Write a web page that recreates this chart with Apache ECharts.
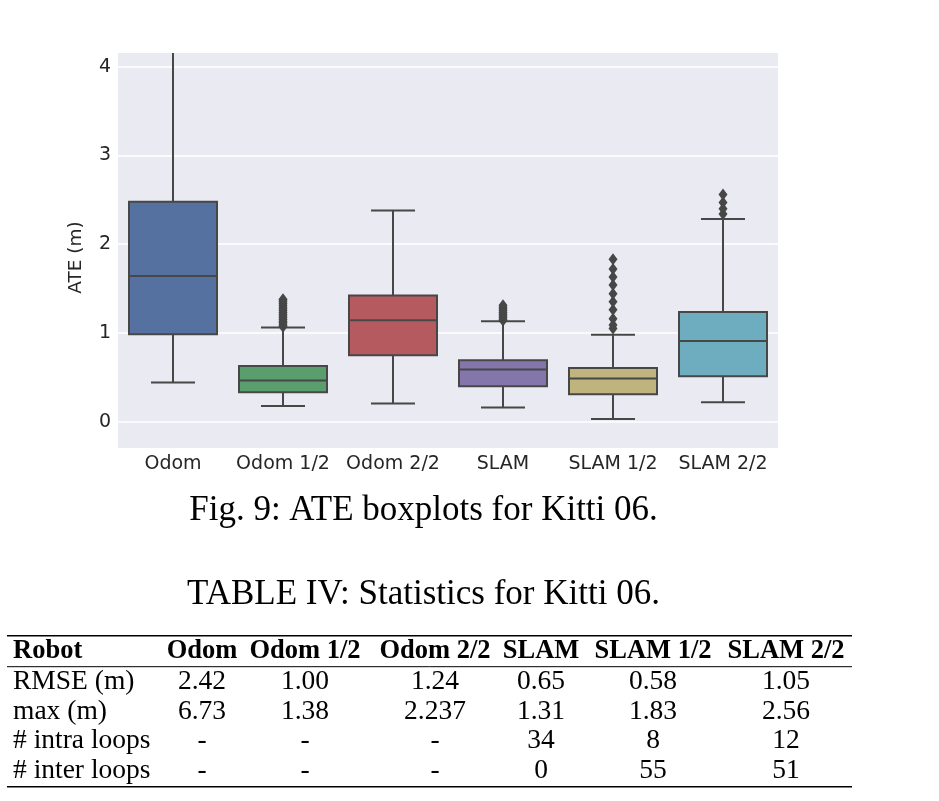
<!DOCTYPE html>
<html>
<head>
<meta charset="utf-8">
<script src="https://cdn.jsdelivr.net/npm/echarts@6/dist/echarts.min.js"></script>
<style>
html,body{margin:0;padding:0;background:#fff;}
#chart{width:939px;height:801px;}
</style>
</head>
<body>
<div id="chart"></div>
<script>
// ---- chart data ----
const categories = ['Odom', 'Odom 1/2', 'Odom 2/2', 'SLAM', 'SLAM 1/2', 'SLAM 2/2'];
const whiskerLow = [0.44, 0.176, 0.203, 0.158, 0.03, 0.218];
const q1 = [0.984, 0.330, 0.747, 0.398, 0.308, 0.511];
const median = [1.641, 0.462, 1.142, 0.586, 0.485, 0.909];
const q3 = [2.477, 0.627, 1.42, 0.691, 0.604, 1.236];
const whiskerHigh = [4.72, 1.06, 2.38, 1.131, 0.98, 2.284];
const outliersOdom = [];
const outliersOdom12 = [1.07, 1.08, 1.10, 1.12, 1.13, 1.15, 1.17, 1.19, 1.21, 1.23, 1.25, 1.27, 1.29, 1.31, 1.33, 1.35, 1.37, 1.38];
const outliersOdom22 = [];
const outliersSlam = [1.14, 1.15, 1.17, 1.19, 1.21, 1.23, 1.25, 1.27, 1.29, 1.31];
const outliersSlam12 = [1.05, 1.09, 1.16, 1.26, 1.35, 1.44, 1.54, 1.63, 1.72, 1.83];
const outliersSlam22 = [2.34, 2.40, 2.47, 2.56];
const yTicks = [0, 1, 2, 3, 4];

// ---- table data ----
const tableHeader = ['Robot', 'Odom', 'Odom 1/2', 'Odom 2/2', 'SLAM', 'SLAM 1/2', 'SLAM 2/2'];
const rowLabels = ['RMSE (m)', 'max (m)', '# intra loops', '# inter loops'];
const rmse = ['2.42', '1.00', '1.24', '0.65', '0.58', '1.05'];
const maxErr = ['6.73', '1.38', '2.237', '1.31', '1.83', '2.56'];
const intraLoops = ['-', '-', '-', '34', '8', '12'];
const interLoops = ['-', '-', '-', '0', '55', '51'];
const figCaption = 'Fig. 9: ATE boxplots for Kitti 06.';
const tableCaption = 'TABLE IV: Statistics for Kitti 06.';

// ---- styles ----
const boxColors = ['#5571a0', '#5a9e6e', '#b55b60', '#8476aa', '#c0b47e', '#6eadbf'];
const edge = '#474747';
const textColor = '#262626';
const serif = '"Liberation Serif", "Times New Roman", serif';
const sans = '"DejaVu Sans"';

const allOutliers = [outliersOdom, outliersOdom12, outliersOdom22, outliersSlam, outliersSlam12, outliersSlam22];
const boxData = categories.map((c, i) => [i, whiskerLow[i], q1[i], median[i], q3[i], whiskerHigh[i]]);
const outlierData = [];
allOutliers.forEach((arr, i) => arr.forEach(v => outlierData.push([i, v])));

function renderBox(params, api) {
  const i = api.value(0);
  const lo = api.coord([i, api.value(1)]);
  const b1 = api.coord([i, api.value(2)]);
  const md = api.coord([i, api.value(3)]);
  const b3 = api.coord([i, api.value(4)]);
  const hi = api.coord([i, api.value(5)]);
  const bw = api.size([1, 0])[0] * 0.8;
  const cx = lo[0];
  const ls = { stroke: edge, lineWidth: 2 };
  return {
    type: 'group',
    children: [
      { type: 'line', shape: { x1: cx, y1: b1[1], x2: cx, y2: lo[1] }, style: ls },
      { type: 'line', shape: { x1: cx, y1: b3[1], x2: cx, y2: hi[1] }, style: ls },
      { type: 'line', shape: { x1: cx - bw / 4, y1: lo[1], x2: cx + bw / 4, y2: lo[1] }, style: ls },
      { type: 'line', shape: { x1: cx - bw / 4, y1: hi[1], x2: cx + bw / 4, y2: hi[1] }, style: ls },
      { type: 'rect', shape: { x: cx - bw / 2, y: b3[1], width: bw, height: b1[1] - b3[1] },
        style: { fill: boxColors[i], stroke: edge, lineWidth: 2 } },
      { type: 'line', shape: { x1: cx - bw / 2, y1: md[1], x2: cx + bw / 2, y2: md[1] }, style: ls }
    ]
  };
}

// ---- table graphics ----
const graphics = [];
function txt(x, y, s, opts) {
  graphics.push({
    type: 'text', x: x, y: y, z: 10,
    style: Object.assign({ text: s, fill: '#000', align: 'center', verticalAlign: 'middle',
      font: '27.5px ' + serif }, opts || {})
  });
}
function rule(y, w) {
  graphics.push({ type: 'line', z: 10, shape: { x1: 7, y1: y, x2: 852, y2: y }, style: { stroke: '#000', lineWidth: w } });
}
txt(423.5, 511, figCaption, { font: '35px ' + serif });
txt(423.5, 595, tableCaption, { font: '35px ' + serif });
rule(635.7, 1.6);
rule(666.7, 1);
rule(786.7, 1.6);
const colX = [202, 305, 435, 541, 653, 786];
const rowY = [682, 712, 741, 771];
txt(13, 651, tableHeader[0], { align: 'left', font: 'bold 26.5px ' + serif });
tableHeader.slice(1).forEach((h, j) => txt(colX[j], 651, h, { font: 'bold 26.5px ' + serif }));
const rows = [rmse, maxErr, intraLoops, interLoops];
rows.forEach((r, k) => {
  txt(13, rowY[k], rowLabels[k], { align: 'left' });
  r.forEach((v, j) => txt(colX[j], rowY[k], v));
});

const chart = echarts.init(document.getElementById('chart'), null, { renderer: 'canvas' });
chart.setOption({
  animation: false,
  backgroundColor: '#fff',
  grid: { left: 118, top: 53, width: 660, height: 395, backgroundColor: '#EAEAF2', show: true, borderWidth: 0 },
  xAxis: {
    type: 'category', data: categories, boundaryGap: true,
    axisLine: { show: false }, axisTick: { show: false }, splitLine: { show: false },
    axisLabel: { color: textColor, fontSize: 19, fontFamily: sans, margin: 7, interval: 0 }
  },
  yAxis: {
    type: 'value', min: -0.298, max: 4.155,
    axisLine: { show: false }, axisTick: { show: false },
    splitLine: { show: false },
    axisLabel: { show: false },
    name: 'ATE (m)', nameLocation: 'middle', nameGap: 32,
    nameTextStyle: { color: textColor, fontSize: 18.5, fontFamily: sans, padding: [0, 14, 0, 0] }
  },
  series: [
    {
      type: 'line', data: [], silent: true, zlevel: 0,
      markLine: {
        silent: true, symbol: 'none', animation: false,
        lineStyle: { color: '#ffffff', width: 1.5, type: 'solid' },
        label: { show: true, position: 'start', distance: 7, formatter: p => String(p.value),
          color: textColor, fontSize: 19, fontFamily: sans },
        data: yTicks.map(t => ({ yAxis: t }))
      }
    },
    {
      type: 'custom', renderItem: renderBox, data: boxData, clip: true, zlevel: 1, z: 3,
      encode: { x: 0, y: [1, 2, 3, 4, 5] }
    },
    {
      type: 'scatter', data: outlierData, symbol: 'diamond', symbolSize: [9, 12], zlevel: 1,
      itemStyle: { color: edge, opacity: 1 }, z: 4
    }
  ],
  graphic: graphics
});
</script>
</body>
</html>
